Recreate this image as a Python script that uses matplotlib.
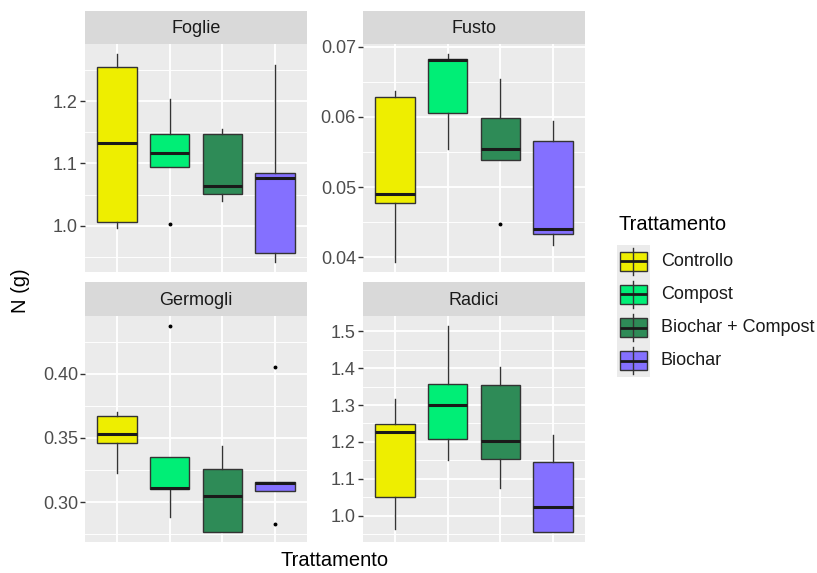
import matplotlib
matplotlib.use("Agg")
import matplotlib.pyplot as plt
from matplotlib.patches import Rectangle
from matplotlib.ticker import MultipleLocator

plt.rcParams["font.family"] = ["Liberation Sans", "DejaVu Sans"]

treatments = ["Controllo", "Compost", "Biochar + Compost", "Biochar"]
colors = ["#EEEE00", "#00EE76", "#2E8B57", "#8470FF"]
panels = ["Foglie", "Fusto", "Germogli", "Radici"]

# Five-number summaries per organ, one value per treatment
whisker_low = {
    "Foglie":   [0.997, 1.094, 1.039, 0.9425],
    "Fusto":    [0.0394, 0.0555, 0.0538, 0.0417],
    "Germogli": [0.3231, 0.2888, 0.2771, 0.3088],
    "Radici":   [0.963, 1.152, 1.076, 0.956],
}
q1 = {
    "Foglie":   [1.0065, 1.094, 1.051, 0.957],
    "Fusto":    [0.0477, 0.0605, 0.0538, 0.0433],
    "Germogli": [0.346, 0.3105, 0.2771, 0.3088],
    "Radici":   [1.049, 1.209, 1.1536, 0.956],
}
median = {
    "Foglie":   [1.133, 1.1165, 1.0645, 1.076],
    "Fusto":    [0.0490, 0.0681, 0.0555, 0.0440],
    "Germogli": [0.3532, 0.3110, 0.3049, 0.3150],
    "Radici":   [1.227, 1.299, 1.202, 1.022],
}
q3 = {
    "Foglie":   [1.254, 1.147, 1.147, 1.084],
    "Fusto":    [0.0629, 0.0683, 0.0599, 0.0566],
    "Germogli": [0.3673, 0.3356, 0.3257, 0.3161],
    "Radici":   [1.249, 1.358, 1.3545, 1.145],
}
whisker_high = {
    "Foglie":   [1.275, 1.203, 1.156, 1.2585],
    "Fusto":    [0.0637, 0.0689, 0.0654, 0.0594],
    "Germogli": [0.3706, 0.3356, 0.3439, 0.3161],
    "Radici":   [1.317, 1.514, 1.4045, 1.218],
}
outliers = {
    "Foglie":   [[], [1.003], [], []],
    "Fusto":    [[], [], [0.0448], []],
    "Germogli": [[], [0.4369], [], [0.4052, 0.2831]],
    "Radici":   [[], [], [], []],
}
major_step = {"Foglie": 0.1, "Fusto": 0.01, "Germogli": 0.05, "Radici": 0.1}
tick_fmt = {"Foglie": "{:.1f}", "Fusto": "{:.2f}", "Germogli": "{:.2f}", "Radici": "{:.1f}"}

W, H = 817, 573
fig = plt.figure(figsize=(W / 100, H / 100), dpi=100)


def rect(x0, y0, x1, y1):
    return [x0 / W, 1 - y1 / H, (x1 - x0) / W, (y1 - y0) / H]


cols = [(85, 307), (363, 585)]
rows = [(11, 44, 272), (282, 316, 542)]
edge = "#333333"

for i, name in enumerate(panels):
    cx0, cx1 = cols[i % 2]
    sy0, py0, py1 = rows[i // 2]
    ax = fig.add_axes(rect(cx0, py0, cx1, py1))
    sax = fig.add_axes(rect(cx0, sy0, cx1, py0))
    sax.set_facecolor("#D9D9D9")
    sax.set_xticks([]); sax.set_yticks([])
    for s in sax.spines.values():
        s.set_visible(False)
    sax.text(0.5, 0.47, name, ha="center", va="center", fontsize=13,
             color="#1A1A1A", transform=sax.transAxes)

    stats = []
    for j in range(len(treatments)):
        stats.append(dict(med=median[name][j], q1=q1[name][j], q3=q3[name][j],
                          whislo=whisker_low[name][j], whishi=whisker_high[name][j],
                          fliers=outliers[name][j]))
    bp = ax.bxp(stats, positions=[1, 2, 3, 4], widths=0.75, patch_artist=True,
                showcaps=False,
                boxprops=dict(edgecolor=edge, linewidth=1.0),
                medianprops=dict(color="#1A1A1A", linewidth=2.2, solid_capstyle="butt"),
                whiskerprops=dict(color=edge, linewidth=1.0),
                flierprops=dict(marker="o", markersize=1.8, markerfacecolor="black",
                                markeredgecolor="black", linestyle="none"))
    for patch, c in zip(bp["boxes"], colors):
        patch.set_facecolor(c)

    lo = min(min(whisker_low[name]), min([v for f in outliers[name] for v in f] or [1e9]))
    hi = max(max(whisker_high[name]), max([v for f in outliers[name] for v in f] or [-1e9]))
    pad = (hi - lo) * 0.05
    ax.set_ylim(lo - pad, hi + pad)
    ax.set_xlim(0.4, 4.6)

    step = major_step[name]
    ax.yaxis.set_major_locator(MultipleLocator(step))
    ax.yaxis.set_minor_locator(MultipleLocator(step / 2))
    ax.yaxis.set_major_formatter(plt.FuncFormatter(lambda v, p, f=tick_fmt[name]: f.format(v)))
    ax.set_xticks([1, 2, 3, 4])
    ax.set_xticklabels([])
    ax.tick_params(axis="x", length=0)
    ax.tick_params(axis="y", which="major", length=3.6, width=1.0, color=edge,
                   labelsize=13, labelcolor="#4D4D4D", pad=1.5)
    ax.tick_params(axis="y", which="minor", length=0)

    ax.set_facecolor("#EBEBEB")
    ax.set_axisbelow(True)
    ax.grid(True, which="major", color="white", linewidth=1.3)
    ax.grid(True, which="minor", axis="y", color="white", linewidth=0.65)
    for s in ax.spines.values():
        s.set_visible(False)

# axis titles
fig.text(20 / W, 1 - 291 / H, "N (g)", rotation=90, ha="center", va="center",
         fontsize=14.5, color="black")
fig.text(335 / W, 1 - 561 / H, "Trattamento", ha="center", va="center",
         fontsize=14.5, color="black")

# legend
lax = fig.add_axes([0, 0, 1, 1])
lax.set_xlim(0, W); lax.set_ylim(H, 0)
lax.axis("off")
lax.text(619, 225, "Trattamento", ha="left", va="center", fontsize=14.5, color="black")
key_step = 33.1
for k, (lab, c) in enumerate(zip(treatments, colors)):
    yc = 261.3 + k * key_step
    lax.add_patch(Rectangle((617, yc - 16.5), 33, 33, facecolor="#EBEBEB", edgecolor="none"))
    lax.plot([633.5, 633.5], [yc - 13.5, yc + 13.5], color=edge, linewidth=1.0)
    lax.add_patch(Rectangle((620, yc - 9.5), 27, 19, facecolor=c, edgecolor=edge, linewidth=1.0))
    lax.plot([620, 647], [yc, yc], color="#1A1A1A", linewidth=2.0, solid_capstyle="butt")
    lax.text(661, yc, lab, ha="left", va="center", fontsize=13, color="#1A1A1A")

fig.savefig("out.png", dpi=100, facecolor="white")
